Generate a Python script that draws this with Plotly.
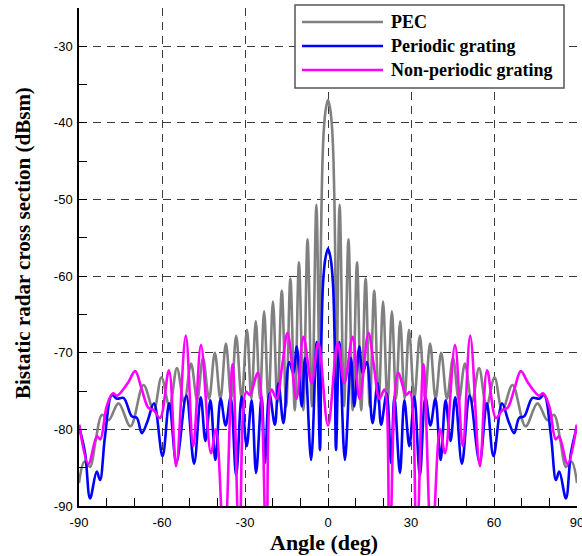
import plotly.graph_objects as go

# ---------------- data ----------------
pec_ang_r = [0, 0.8, 1.4, 1.9, 2.3, 2.6, 3.0, 4.2, 5.8, 7.4, 8.9, 10.5, 12.0, 13.6, 15.1,
             16.7, 18.3, 19.9, 21.5, 23.1, 24.6, 26.1, 27.7, 29.3, 31.2, 33.2, 35.0, 36.9,
             38.9, 40.9, 43.0, 45.2, 47.3, 49.5, 52.0, 54.6, 57.3, 60.2, 63.0, 66.7, 71.4,
             75.7, 79.3, 81.7, 84.0, 86.0, 88.0, 90.0]
pec_db_r = [-37, -38.2, -40.3, -44, -50, -57, -76, -50.7, -77, -55.2, -77.5, -58.2, -77.5, -60.3, -77,
            -61.9, -76.5, -63.3, -76.5, -64.6, -76, -65.9, -76, -67.0, -76, -67.8, -76, -68.8,
            -76, -70.0, -76, -70.7, -76.2, -71.4, -76.5, -72.0, -77, -73.2, -77.5, -74.2, -79.6,
            -76.6, -78.8, -78.1, -81.5, -84.9, -84.2, -87]
pec_ang_l = [-90.0, -88.0, -86.0, -84.0, -81.7, -79.3, -75.7, -71.4, -66.7, -63.0, -60.2, -57.3,
             -54.6, -52.0, -49.5, -47.3, -45.2, -43.0, -40.9, -38.9, -36.9, -35.0, -33.2, -31.2,
             -29.3, -27.7, -26.1, -24.6, -23.1, -21.5, -19.9, -18.3, -16.7, -15.1, -13.6, -12.0,
             -10.5, -8.9, -7.4, -5.8, -4.2, -3.0, -2.6, -2.3, -1.9, -1.4, -0.8]
pec_db_l = [-87, -84.2, -84.9, -81.5, -78.1, -78.8, -76.6, -79.6, -74.2, -77.5, -73.2, -77,
            -72.0, -76.5, -71.4, -76.2, -70.7, -76, -70.0, -76, -68.8, -76, -67.8, -76,
            -67.0, -76, -65.9, -76, -64.6, -76.5, -63.3, -76.5, -61.9, -77, -60.3, -77.5,
            -58.2, -77.5, -55.2, -77, -50.7, -76, -57, -50, -44, -40.3, -38.2]

per_ang_r = [0, 1.0, 1.8, 2.4, 2.9, 4.1, 6.1, 8.3, 9.5, 11.3, 12.5, 14.0, 16.1, 17.9, 19.2,
             21.2, 22.8, 24.0, 26.0, 27.6, 29.4, 31.2, 33.2, 35.2, 37.0, 38.8, 40.7, 42.5,
             44.3, 46.0, 48.4, 51.2, 54.8, 57.4, 59.8, 62.9, 65.3, 67.3, 69.1, 70.9, 73.9,
             76.3, 78.1, 80.6, 82.4, 83.6, 86.0, 87.8, 90.0]
per_db_r = [-56.4, -57.8, -61, -68.5, -82.7, -68.6, -84, -70.7, -77, -69.2, -72.7, -71.2, -79.2, -74, -79.4,
            -75.3, -84.4, -75.7, -85.7, -76.2, -82.2, -75.7, -86, -75.8, -79.5, -76, -84, -76.2,
            -81.5, -75.8, -84.5, -75.6, -84.3, -76.6, -83.5, -76.6, -79, -80.5, -78.5, -78.3, -75.9,
            -76, -75.5, -80.9, -86.6, -85.5, -89, -83.1, -79.6]
per_ang_l = [-90.0, -87.8, -86.0, -83.6, -82.4, -80.6, -78.1, -76.3, -73.9, -70.9, -69.1, -67.3,
             -65.3, -62.9, -59.8, -57.4, -54.8, -51.2, -48.4, -46.0, -44.3, -42.5, -40.7, -38.8,
             -37.0, -35.2, -33.2, -31.2, -29.4, -27.6, -26.0, -24.0, -22.8, -21.2, -19.2, -17.9,
             -16.1, -14.0, -12.5, -11.3, -9.5, -8.3, -6.1, -4.1, -2.9, -2.4, -1.8, -1.0]
per_db_l = [-79.6, -83.1, -89, -85.5, -86.6, -80.9, -75.5, -76, -75.9, -78.3, -78.5, -80.5,
            -79, -76.6, -83.5, -76.6, -84.3, -75.6, -84.5, -75.8, -81.5, -76.2, -84, -76,
            -79.5, -75.8, -86, -75.7, -82.2, -76.2, -85.7, -75.7, -84.4, -75.3, -79.4, -74,
            -79.2, -71.2, -72.7, -69.2, -77, -70.7, -84, -68.6, -82.7, -68.5, -61, -57.8]

npg_ang_r = [0, 3.5, 5.9, 8.9, 11.4, 14.6, 16.5, 18.6, 20.4, 22.3, 25.3, 28.3, 29.6, 32.0,
             34.5, 37.5, 40.5, 42.3, 45.9, 48.7, 51.4, 54.9, 57.5, 60.7, 63.0, 64.9, 67.3,
             69.7, 72.1, 74.5, 76.2, 77.8, 80.0, 82.3, 83.5, 86.6, 89.9]
npg_db_r = [-79.5, -68.7, -74, -67.9, -76, -67.4, -71.5, -76, -74.8, -96, -72.6, -75.5, -75.1, -96,
            -71.5, -96, -80, -83.1, -69, -82.2, -67.8, -84.8, -72.3, -78.5, -77.5, -77.2, -74.8,
            -72.4, -73.8, -75, -75.6, -75.3, -77, -81.3, -80.9, -84.5, -79.4]
npg_ang_l = [-89.9, -86.6, -83.5, -82.3, -80.0, -77.8, -76.2, -74.5, -72.1, -69.7, -67.3, -64.9,
             -63.0, -60.7, -57.5, -54.9, -51.4, -48.7, -45.9, -42.3, -40.5, -37.5, -34.5, -32.0,
             -29.6, -28.3, -25.3, -22.3, -20.4, -18.6, -16.5, -14.6, -11.4, -8.9, -5.9, -3.5]
npg_db_l = [-79.4, -84.5, -80.9, -81.3, -77, -75.3, -75.6, -75, -73.8, -72.4, -74.8, -77.2,
            -77.5, -78.5, -72.3, -84.8, -67.8, -82.2, -69, -83.1, -80, -96, -71.5, -96,
            -75.1, -75.5, -72.6, -96, -74.8, -76, -71.5, -67.4, -76, -67.9, -74, -68.7]

series_names = ["PEC", "Periodic grating", "Non-periodic grating"]
series_colors = ["#808080", "#0000ff", "#ff00ff"]

x_ticks = [-90, -60, -30, 0, 30, 60, 90]
y_ticks = [-90, -80, -70, -60, -50, -40, -30]

# ---------------- figure ----------------
fig = go.Figure()
series = [
    (pec_ang_l + pec_ang_r, pec_db_l + pec_db_r),
    (per_ang_l + per_ang_r, per_db_l + per_db_r),
    (npg_ang_l + npg_ang_r, npg_db_l + npg_db_r),
]
for (xs, ys), name, col in zip(series, series_names, series_colors):
    fig.add_trace(go.Scatter(x=xs, y=ys, mode="lines", name=name,
                             line=dict(color=col, width=2.6, shape="spline", smoothing=1.0),
                             showlegend=False))

serif = "Liberation Serif"
sans = "Liberation Sans"

common_axis = dict(
    ticks="inside", ticklen=8, tickwidth=1.2, tickcolor="black",
    showline=True, linecolor="black", linewidth=1.5, mirror=False,
    showgrid=True, gridcolor="#3a3a3a", gridwidth=1.2, griddash="8px,6px",
    zeroline=False, automargin=False, ticklabeloverflow="allow",
    tickfont=dict(family=sans, size=13, color="black"),
)

fig.update_layout(
    width=582, height=556,
    margin=dict(l=79, r=5, t=8, b=50),
    paper_bgcolor="white", plot_bgcolor="white",
    xaxis=dict(range=[-90, 90], tickvals=x_ticks, ticktext=[str(v) for v in x_ticks],
               ticklabelstandoff=4,
               minor=dict(dtick=10, tick0=-90, ticks="inside", ticklen=8, tickwidth=1.2,
                          tickcolor="black", showgrid=False),
               **common_axis),
    yaxis=dict(range=[-90, -25], tickvals=y_ticks, ticktext=[str(v) for v in y_ticks],
               ticklabelstandoff=2,
               minor=dict(dtick=5, tick0=-90, ticks="inside", ticklen=8, tickwidth=1.2,
                          tickcolor="black", showgrid=False),
               **common_axis),
)

def px2x(px):
    return (px - 79) / 498.0

def py2y(py):
    return (506 - py) / 498.0

# axis titles
fig.add_annotation(xref="paper", yref="paper", x=px2x(324), y=py2y(542), text="Angle (deg)",
                   showarrow=False, xanchor="center", yanchor="middle",
                   font=dict(family=serif, size=22, color="black", weight="bold"))
fig.add_annotation(xref="paper", yref="paper", x=px2x(23), y=py2y(243),
                   text="Bistatic radar cross section (dBsm)", textangle=-90,
                   showarrow=False, xanchor="center", yanchor="middle",
                   font=dict(family=serif, size=21, color="black", weight="bold"))

# custom legend (paper coordinates)
fig.add_shape(type="rect", xref="paper", yref="paper",
              x0=px2x(295), x1=px2x(564), y0=py2y(88), y1=py2y(5),
              line=dict(color="#555555", width=1.5), fillcolor="white", layer="above")
for i, (name, col) in enumerate(zip(series_names, series_colors)):
    yy = py2y(22 + 24 * i)
    fig.add_shape(type="line", xref="paper", yref="paper",
                  x0=px2x(302), x1=px2x(383), y0=yy, y1=yy,
                  line=dict(color=col, width=2.6), layer="above")
    fig.add_annotation(xref="paper", yref="paper", x=px2x(389), y=yy, text=name,
                       showarrow=False, xanchor="left", yanchor="middle",
                       font=dict(family=serif, size=18, color="black", weight="bold"))

fig.write_html("out.html", config={"displayModeBar": False},
               post_script="document.body.style.margin='0';document.body.style.overflow='hidden';")
